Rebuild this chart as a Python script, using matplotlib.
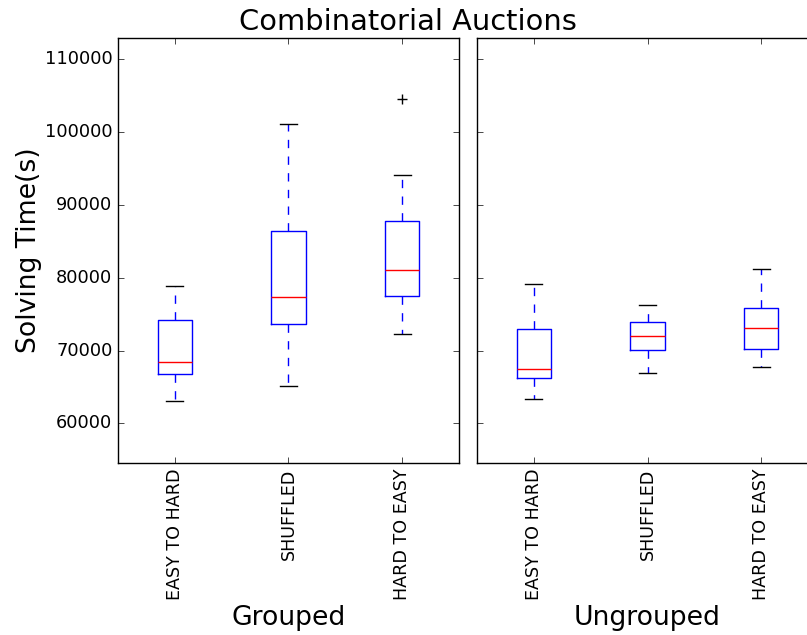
import matplotlib
matplotlib.use("Agg")
import matplotlib.pyplot as plt

plt.style.use("classic")

categories = ["EASY TO HARD", "SHUFFLED", "HARD TO EASY"]

# Grouped: whislo, q1, med, q3, whishi, fliers
grouped_whislo = [63110, 65170, 72260]
grouped_q1 = [66815, 73590, 77480]
grouped_med = [68420, 77340, 81090]
grouped_q3 = [74180, 86490, 87810]
grouped_whishi = [78810, 101130, 94130]
grouped_fliers = [[], [], [104600]]

ungrouped_whislo = [63390, 66955, 67780]
ungrouped_q1 = [66180, 70020, 70160]
ungrouped_med = [67500, 71940, 73130]
ungrouped_q3 = [72950, 73860, 75870]
ungrouped_whishi = [79170, 76290, 81230]
ungrouped_fliers = [[], [], []]

y_ticks = [60000, 70000, 80000, 90000, 100000, 110000]


def make_stats(lo, q1, med, q3, hi, fl):
    return [dict(whislo=a, q1=b, med=c, q3=d, whishi=e, fliers=f, label=n)
            for a, b, c, d, e, f, n in zip(lo, q1, med, q3, hi, fl, categories)]


fig = plt.figure(figsize=(8.07, 6.35), dpi=100, facecolor="white")
W, H = 807.0, 635.0
ax1 = fig.add_axes([118 / W, 1 - 462.7 / H, 341 / W, (462.7 - 37.5) / H])
ax2 = fig.add_axes([477 / W, 1 - 462.7 / H, 341 / W, (462.7 - 37.5) / H])

for ax, stats, name in [
    (ax1, make_stats(grouped_whislo, grouped_q1, grouped_med, grouped_q3, grouped_whishi, grouped_fliers), "Grouped"),
    (ax2, make_stats(ungrouped_whislo, ungrouped_q1, ungrouped_med, ungrouped_q3, ungrouped_whishi, ungrouped_fliers), "Ungrouped"),
]:
    ax.set_facecolor("white")
    ax.bxp(stats, widths=0.3, showfliers=True,
           boxprops=dict(color="blue"),
           whiskerprops=dict(color="blue", linestyle="--"),
           capprops=dict(color="black"),
           medianprops=dict(color="red"),
           flierprops=dict(marker="+", markeredgecolor="black", markersize=7))
    ax.set_xlim(0.5, 3.5)
    ax.set_ylim(54600, 113000)
    ax.set_yticks(y_ticks)
    ax.set_xticks([1, 2, 3])
    ax.set_xticklabels(categories, rotation=90, fontsize=12.6)
    ax.tick_params(axis="y", labelsize=12.8)
    ax.set_xlabel(name, fontsize=19.2, labelpad=4)

ax2.set_yticklabels([])
ax1.set_ylabel("Solving Time(s)", fontsize=19.2, labelpad=2)
fig.suptitle("Combinatorial Auctions", fontsize=20.8, x=0.505, y=0.988)

fig.savefig("out.png", dpi=100, facecolor="white")
